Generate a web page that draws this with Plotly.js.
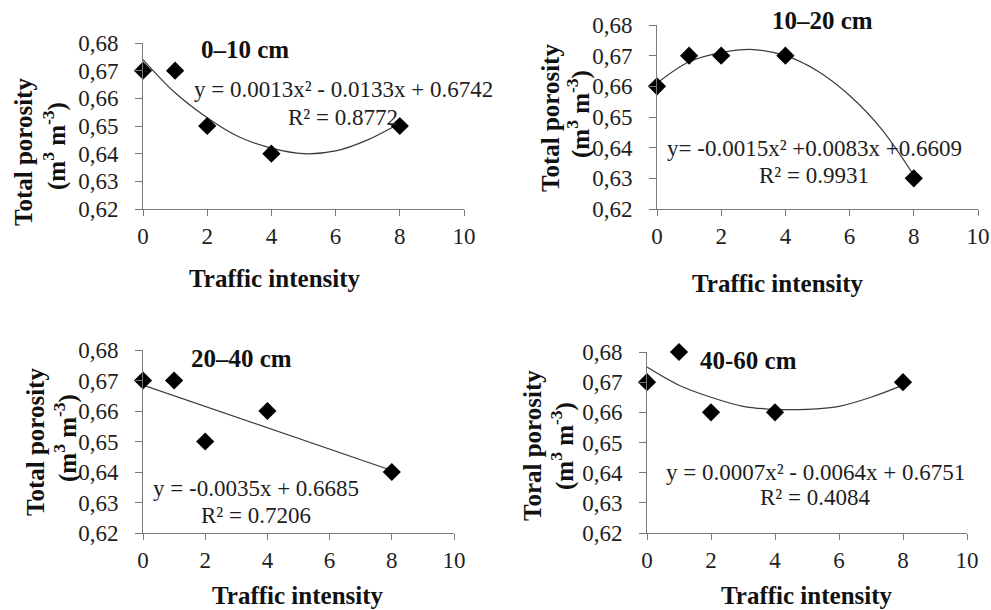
<!DOCTYPE html>
<html>
<head>
<meta charset="utf-8">
<script src="https://cdn.plot.ly/plotly-3.0.1.min.js"></script>
<style>html,body{margin:0;padding:0;background:#fff;}#chart{width:991px;height:610px;}</style>
</head>
<body>
<div id="chart"></div>
<script>
// Observed points (traffic intensity vs total porosity)
const traffic = [0, 1, 2, 4, 8];
const poro_0_10 = [0.67, 0.67, 0.65, 0.64, 0.65];
const poro_10_20 = [0.66, 0.67, 0.67, 0.67, 0.63];
const poro_20_40 = [0.67, 0.67, 0.65, 0.66, 0.64];
const poro_40_60 = [0.67, 0.68, 0.66, 0.66, 0.67];

// Trend lines
const trendX = [0, 1, 2, 3, 4, 5, 6, 7, 8];
const trend_0_10 = [0.674, 0.662, 0.653, 0.646, 0.642, 0.640, 0.641, 0.645, 0.651];
const trend_10_20 = [0.661, 0.668, 0.671, 0.672, 0.670, 0.665, 0.657, 0.646, 0.631];
const trendLinX = [0, 8];
const trend_20_40 = [0.6685, 0.6405];
const trend_40_60 = [0.675, 0.669, 0.665, 0.662, 0.661, 0.661, 0.662, 0.665, 0.669];

const panelTitles = ['0\u201310 cm', '10\u201320 cm', '20\u201340 cm', '40-60 cm'];
const equations = [
  'y = 0.0013x\u00b2 - 0.0133x + 0.6742',
  'y= -0.0015x\u00b2 +0.0083x +0.6609',
  'y = -0.0035x + 0.6685',
  'y = 0.0007x\u00b2 - 0.0064x + 0.6751'
];
const r2 = ['R\u00b2 = 0.8772', 'R\u00b2 = 0.9931', 'R\u00b2 = 0.7206', 'R\u00b2 = 0.4084'];
const yTitle1 = ['Total porosity', 'Total porosity', 'Total porosity', 'Toral porosity'];
const yTitle2 = '(m<sup>3</sup> m<sup>-3</sup>)';
const xTitle = 'Traffic intensity';
const xTicks = [0, 2, 4, 6, 8, 10];
const yTicks = [0.62, 0.63, 0.64, 0.65, 0.66, 0.67, 0.68];

const W = 991, H = 610;
const axisCol = '#7a7a7a';

// panel geometry in pixels: [left, right, top, bottom]
const geom = [
  [143, 464, 43, 209],
  [657, 978, 25, 209],
  [143, 454, 350, 533],
  [647, 967, 352, 533]
];
const titlePos = [[245, 50], [822, 20], [241, 358], [748, 360]];
const eqPos = [[343, 90, 117], [814, 148, 175], [256, 488, 515], [815, 472, 498]];
const xTitlePos = [[275, 278], [778, 283], [298, 595], [807, 595]];
const yTitlePos = [[23, 152, 54, 146], [550, 118, 578, 114], [35, 442, 65, 438], [532, 446, 562, 446]];

const pts = [poro_0_10, poro_10_20, poro_20_40, poro_40_60];
const trends = [[trendX, trend_0_10], [trendX, trend_10_20], [trendLinX, trend_20_40], [trendX, trend_40_60]];

const data = [];
const layout = {
  width: W, height: H,
  margin: {l: 0, r: 0, t: 0, b: 0},
  showlegend: false,
  separators: ',.',
  font: {family: 'Liberation Serif', size: 23, color: '#1e1e1e'},
  annotations: []
};

function px(x) { return x / W; }
function py(y) { return 1 - y / H; }

for (let i = 0; i < 4; i++) {
  const n = i + 1;
  const xa = 'x' + (n === 1 ? '' : n), ya = 'y' + (n === 1 ? '' : n);
  const g = geom[i];
  data.push({
    x: trends[i][0], y: trends[i][1], xaxis: xa, yaxis: ya,
    mode: 'lines', line: {color: '#3a3a3a', width: 1.2, shape: 'spline'},
    hoverinfo: 'skip'
  });
  data.push({
    x: traffic, y: pts[i], xaxis: xa, yaxis: ya,
    mode: 'markers', marker: {symbol: 'diamond', size: 14, color: '#000000'},
    cliponaxis: false
  });
  const xk = 'xaxis' + (n === 1 ? '' : n), yk = 'yaxis' + (n === 1 ? '' : n);
  layout[xk] = {
    domain: [px(g[0]), px(g[1])], anchor: ya, range: [0, 10],
    tickvals: xTicks, showline: true, linecolor: axisCol, linewidth: 1,
    ticks: 'outside', ticklen: 6, tickcolor: axisCol, showgrid: false, zeroline: false,
    tickfont: {size: 23}, ticklabelstandoff: 0
  };
  layout[yk] = {
    domain: [py(g[3]), py(g[2])], anchor: xa, range: [0.62, 0.68],
    tickvals: yTicks, tickformat: '.2f', showline: true, linecolor: axisCol, linewidth: 1,
    ticks: 'outside', ticklen: 7, tickcolor: axisCol, showgrid: false, zeroline: false,
    tickfont: {size: 23}, ticklabelstandoff: 12
  };
  const A = layout.annotations;
  A.push({xref: 'paper', yref: 'paper', x: px(titlePos[i][0]), y: py(titlePos[i][1]),
    text: '<b>' + panelTitles[i] + '</b>', showarrow: false, xanchor: 'center', yanchor: 'middle',
    font: {size: 25, color: '#111111'}});
  A.push({xref: 'paper', yref: 'paper', x: px(eqPos[i][0]), y: py(eqPos[i][1]),
    text: equations[i], showarrow: false, xanchor: 'center', yanchor: 'middle',
    font: {size: 23}});
  A.push({xref: 'paper', yref: 'paper', x: px(eqPos[i][0]), y: py(eqPos[i][2]),
    text: r2[i], showarrow: false, xanchor: 'center', yanchor: 'middle',
    font: {size: 23}});
  A.push({xref: 'paper', yref: 'paper', x: px(xTitlePos[i][0]), y: py(xTitlePos[i][1]),
    text: '<b>' + xTitle + '</b>', showarrow: false, xanchor: 'center', yanchor: 'middle',
    font: {size: 25, color: '#111111'}});
  A.push({xref: 'paper', yref: 'paper', x: px(yTitlePos[i][0]), y: py(yTitlePos[i][1]),
    text: '<b>' + yTitle1[i] + '</b>', showarrow: false, textangle: -90, xanchor: 'center', yanchor: 'middle',
    font: {size: 25, color: '#111111'}});
  A.push({xref: 'paper', yref: 'paper', x: px(yTitlePos[i][2]), y: py(yTitlePos[i][3]),
    text: '<b>' + yTitle2 + '</b>', showarrow: false, textangle: -90, xanchor: 'center', yanchor: 'middle',
    font: {size: 25, color: '#111111'}});
}

Plotly.newPlot('chart', data, layout, {staticPlot: true});
</script>
</body>
</html>
